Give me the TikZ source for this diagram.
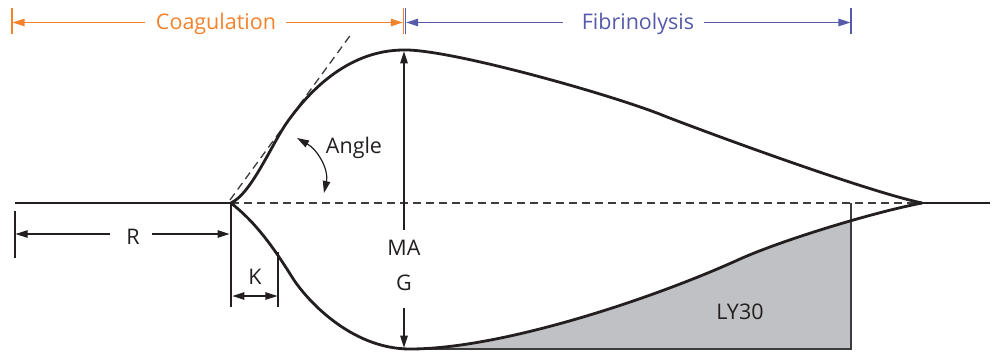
\documentclass[tikz,border=0pt]{standalone}
\usepackage{fontspec}
\setmainfont{Open Sans}
\usetikzlibrary{arrows.meta}
\definecolor{coagc}{RGB}{243,130,45}
\definecolor{fibc}{RGB}{85,90,170}
\definecolor{shadec}{RGB}{192,193,196}
\definecolor{ink}{RGB}{35,31,32}
\definecolor{dashc}{RGB}{60,60,60}
\begin{document}
\begin{tikzpicture}[x=1pt,y=-1pt,
  >={Triangle[length=12pt,width=7.5pt]},
  curve/.style={line width=2.8pt, draw=ink, line join=round},
  dim/.style={line width=1.2pt, draw=ink},
  tick/.style={line width=1.3pt},
  lbl/.style={font=\fontsize{21.5}{26}\selectfont, text=ink, inner sep=0pt, anchor=base},
  dashln/.style={line width=1.3pt, draw=dashc, dash pattern=on 8pt off 5pt}]
\useasboundingbox (0,0) rectangle (992,351);

% key points
\coordinate (L0) at (15,203);
\coordinate (O) at (231,203);
\coordinate (E) at (922,203);
\coordinate (E1) at (990,203);
\coordinate (Top) at (404,50);
\coordinate (Bot) at (410,349);
\coordinate (Kb) at (231,307);
\coordinate (LYb) at (851,349);
\coordinate (LYt) at (851,203);
\coordinate (tg0) at (230,200);
\coordinate (tg1) at (352,33);

% LY30 shaded area
\begin{scope}
\clip (405,190) rectangle (851,349);
\fill[shadec] (Bot) .. controls (500,349) and (650,300) .. (740,259)
  .. controls (780,241) and (870,213) .. (E) -- (922,349) -- cycle;
\end{scope}
\draw[line width=1.1pt, draw=dashc] (Bot) -- (LYb) -- (LYt);

% dashed lines
\draw[dashln] (O) -- (E);
\draw[dashln] (tg0) -- (tg1);

% tracing
\draw[curve] (L0) -- (O);
\draw[curve] (E) -- (E1);
\draw[curve] (O) -- (Kb);
\draw[curve] (O) .. controls (252,193) and (272,143) .. (288,121)
  .. controls (306,96) and (345,50) .. (Top)
  .. controls (450,49) and (617,96) .. (667,117)
  .. controls (727,140) and (870,192) .. (E);
\draw[curve] (O) .. controls (255,222) and (272,245) .. (292,277)
  .. controls (305,298) and (350,349) .. (Bot)
  .. controls (500,349) and (650,300) .. (740,259)
  .. controls (780,241) and (870,213) .. (E);

% top phase arrows
\coordinate (c0t) at (12,8); \coordinate (c0b) at (12,34);
\coordinate (cmt) at (403.4,8); \coordinate (cmb) at (403.4,34);
\coordinate (fmt) at (405.6,8); \coordinate (fmb) at (405.6,34);
\coordinate (f1t) at (851,8); \coordinate (f1b) at (851,34);
\draw[tick, coagc] (c0t) -- (c0b);
\draw[tick, coagc] (cmt) -- (cmb);
\draw[tick, fibc] (fmt) -- (fmb);
\draw[tick, fibc] (f1t) -- (f1b);
\node[lbl, text=coagc] (coag) at (216,29) {Coagulation};
\node[lbl, text=fibc] (fib) at (638,29) {Fibrinolysis};
\coordinate (ca) at (12.6,22.5); \coordinate (cb) at (145,22.5);
\coordinate (cc) at (286,22.5); \coordinate (cd) at (402.8,22.5);
\coordinate (fa) at (406.2,22.5); \coordinate (fb) at (563,22.5);
\coordinate (fc) at (704,22.5); \coordinate (fd) at (850.4,22.5);
\draw[tick, coagc, ->] (cb) -- (ca);
\draw[tick, coagc, ->] (cc) -- (cd);
\draw[tick, fibc, ->] (fb) -- (fa);
\draw[tick, fibc, ->] (fc) -- (fd);

% R
\coordinate (rt) at (15,211); \coordinate (rb) at (15,258);
\draw[dim] (rt) -- (rb);
\node[lbl] (R) at (133,244) {R};
\coordinate (ra) at (15.6,234); \coordinate (rB) at (110,234);
\coordinate (rC) at (152,234); \coordinate (rD) at (229.6,234);
\draw[dim,->] (rB) -- (ra);
\draw[dim,->] (rC) -- (rD);

% K
\coordinate (kt) at (278,252); \coordinate (kb) at (278,307);
\draw[dim] (kt) -- (kb);
\node[lbl] (K) at (255,284) {K};
\coordinate (ka) at (232.4,296); \coordinate (kc) at (277.4,296);
\draw[dim,<->] (ka) -- (kc);

% MA / G
\node[lbl] (MA) at (404,255) {MA};
\node[lbl] (G) at (404,290) {G};
\coordinate (mab) at (404,230);
\coordinate (gt) at (404,308); \coordinate (gb) at (404,349);
\draw[dim,->,shorten >=1.3pt] (mab) -- (Top);
\draw[dim,->,shorten >=1.3pt] (gt) -- (gb);

% Angle
\node[lbl] (ang) at (354,153) {Angle};
\coordinate (aa) at (297,138); \coordinate (ab) at (324,193);
\draw[dim,<->] (aa) .. controls (318,150) and (329,170) .. (ab);

% LY30
\node[lbl] (ly) at (740,319) {LY30};
\end{tikzpicture}
\end{document}
